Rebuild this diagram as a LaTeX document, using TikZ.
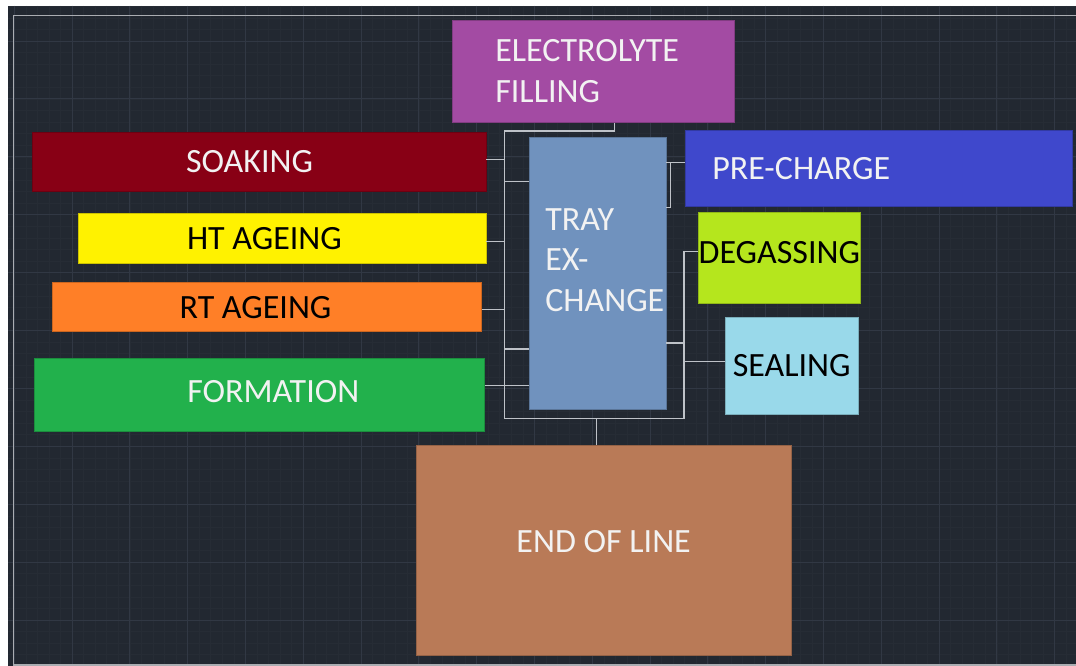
\documentclass[tikz,border=0pt]{standalone}
\usepackage{fontspec}
\setmainfont{Carlito}
\usetikzlibrary{positioning}
\definecolor{canvasbg}{RGB}{34,40,49}
\definecolor{gridmaj}{RGB}{49,56,68}
\definecolor{gridmin}{RGB}{38,44,53}
\definecolor{framegray}{RGB}{170,173,178}
\definecolor{wiregray}{RGB}{190,194,200}
\definecolor{fillpurple}{RGB}{163,75,163}
\definecolor{soakred}{RGB}{136,0,21}
\definecolor{htyellow}{RGB}{255,242,0}
\definecolor{rtorange}{RGB}{255,127,39}
\definecolor{formgreen}{RGB}{34,177,76}
\definecolor{trayblue}{RGB}{112,146,190}
\definecolor{preblue}{RGB}{63,72,204}
\definecolor{degaslime}{RGB}{181,230,29}
\definecolor{sealcyan}{RGB}{153,217,234}
\definecolor{eolbrown}{RGB}{185,122,87}
\definecolor{lighttext}{RGB}{242,242,242}

\begin{document}
\begin{tikzpicture}[
    x=1pt, y=-1pt,
    stage/.style={rectangle, anchor=north west, inner ysep=0pt, fill=#1, draw=#1!80!black, line width=0.6pt, font=\fontsize{34}{40.5}\selectfont},
    wire/.style={draw=wiregray, line width=1.2pt},
    gridminor/.style={draw=gridmin, line width=0.5pt},
    gridmajor/.style={draw=gridmaj, line width=0.8pt},
    frameline/.style={draw=framegray, line width=1.5pt}
]

\useasboundingbox (0,0) rectangle (1076,666);
\fill[white] (0,0) rectangle (1076,666);
\fill[canvasbg] (8,6) rectangle (1076,666);
\begin{scope}
\clip (8,6) rectangle (1076,666);
\foreach \k in {0,...,92} \draw[gridminor] ({14.2+11.56*\k},6) -- ++(0,660);
\foreach \k in {-3,...,54} \draw[gridminor] (8,{41+11.58*\k}) -- ++(1068,0);
\foreach \k in {0,...,18} \draw[gridmajor] ({14.2+57.8*\k},6) -- ++(0,660);
\foreach \k in {-1,...,11} \draw[gridmajor] (8,{41+57.9*\k}) -- ++(1068,0);
\draw[frameline] (1080,15.3) -- (13.3,15.3) -- (13.3,665) -- (1080,665);
\end{scope}

\node (fill) [stage=fillpurple, text=lighttext, align=flush left, inner xsep=43pt, text width=196pt, minimum height=102pt] at (452,20) {ELECTROLYTE\\FILLING};
\node (soak) [stage=soakred, text=lighttext, align=flush left, inner xsep=154pt, text width=146pt, minimum height=59pt] at (31.7,131.7) {SOAKING};
\node (ht) [stage=htyellow, text=black, align=flush left, inner xsep=109pt, text width=190pt, minimum height=50pt] at (77.7,213.3) {HT AGEING};
\node (rt) [stage=rtorange, text=black, align=flush left, inner xsep=127pt, text width=175pt, minimum height=49pt] at (52.3,282.3) {RT AGEING};
\node (form) [stage=formgreen, text=lighttext, align=flush left, inner xsep=153pt, text width=144pt, minimum height=73pt, text depth=7pt] at (34,357.7) {FORMATION};
\node (tray) [stage=trayblue, text=lighttext, align=flush left, inner xsep=15.7pt, text width=105pt, minimum height=272pt, text depth=109pt] at (529.3,137.3) {TRAY\\EX-\\CHANGE};
\node (pre) [stage=preblue, text=lighttext, align=flush left, inner xsep=27pt, text width=333pt, minimum height=76pt] at (685,130) {PRE-CHARGE};
\node (degas) [stage=degaslime, text=black, inner xsep=0pt, minimum width=161pt, minimum height=90.4pt, text depth=10pt] at (698.3,212.3) {DEGASSING};
\node (seal) [stage=sealcyan, text=black, inner xsep=0pt, minimum width=132.7pt, minimum height=96.4pt] at (725,317.3) {SEALING};
\node (eol) [stage=eolbrown, text=lighttext, inner xsep=0pt, minimum width=375.3pt, minimum height=210.6pt, text depth=18pt] at (415.7,444.7) {END OF LINE};

\coordinate (busTL) at (504.3,131);
\coordinate (busBL) at (504.3,418.7);
\coordinate (busBR) at (684,418.7);

\draw[wire] ([xshift=21pt]fill.south) |- (busTL) -- (busBL) -- (busBR) |- ([yshift=6.5pt]degas.west);
\draw[wire] ([yshift=2pt]soak.east) -- ([yshift=2pt]soak.east -| busTL);
\draw[wire] ([yshift=-44pt]tray.north west) -- ([yshift=-44pt]tray.north west -| busTL);
\draw[wire] ([yshift=-2.7pt]ht.east) -- ([yshift=-2.7pt]ht.east -| busTL);
\draw[wire] ([yshift=-2pt]rt.east) -- ([yshift=-2pt]rt.east -| busTL);
\draw[wire] ([yshift=61pt]tray.south west) -- ([yshift=61pt]tray.south west -| busTL);
\draw[wire] ([yshift=9pt]form.east) -- ([yshift=9pt]form.east -| tray.west);
\draw[wire] ([yshift=5.7pt]pre.west) -- ([yshift=5.7pt]pre.west -| tray.east);
\draw[wire] ([yshift=5.7pt]pre.west -| tray.east) -- ++(4,0) -- ++(0,45) -- ++(-4,0);
\draw[wire] ([yshift=67pt]tray.south east) -- ([yshift=67pt]tray.south east -| busBR);
\draw[wire] ([yshift=4pt]seal.west) -- ([yshift=4pt]seal.west -| busBR);
\draw[wire] ([xshift=-7.4pt]eol.north) -- ([xshift=-7.4pt]eol.north |- busBL);

\end{tikzpicture}
\end{document}
